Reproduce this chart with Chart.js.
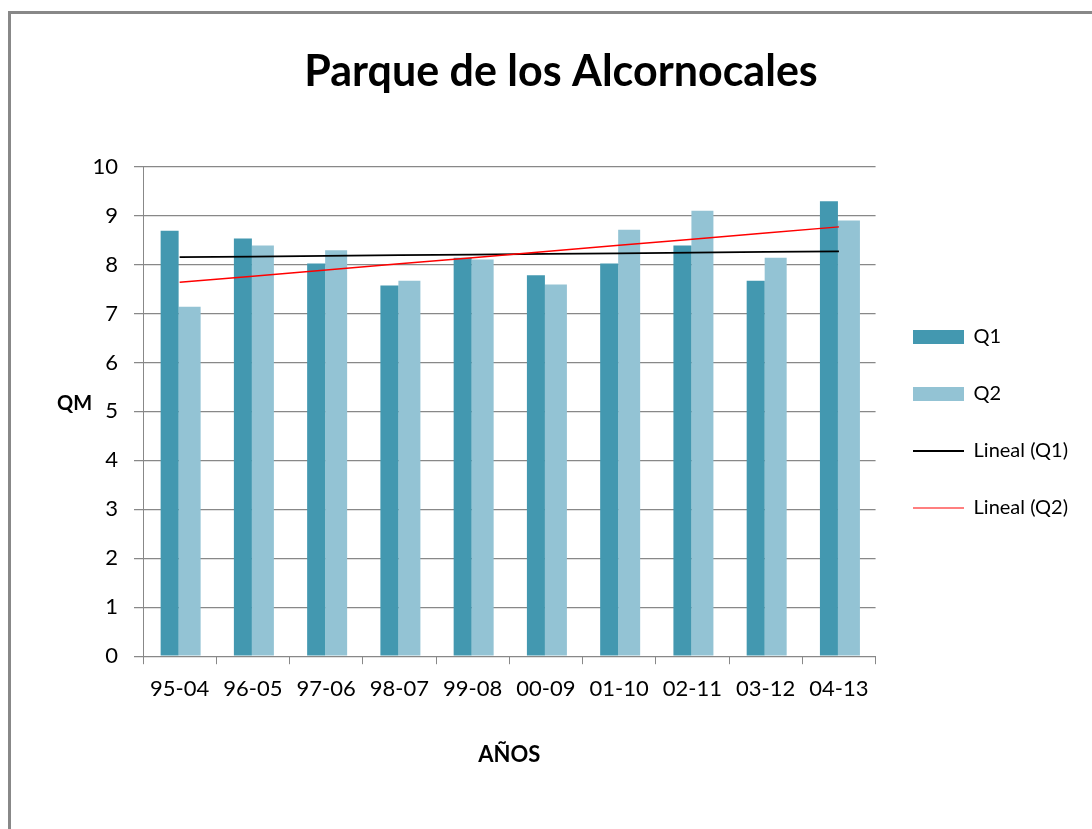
<!DOCTYPE html>
<html>
<head>
<meta charset="utf-8">
<script src="https://cdn.jsdelivr.net/npm/chart.js@4/dist/chart.umd.min.js"></script>
<style>
html,body{margin:0;padding:0;background:#fff;overflow:hidden;}
#wrap{position:relative;width:1092px;height:829px;}
#frame{position:absolute;left:8px;top:11px;width:2000px;height:2000px;border-top:3px solid #888;border-left:3px solid #888;pointer-events:none;}
</style>
</head>
<body>
<div id="wrap"><canvas id="c"></canvas><div id="frame"></div></div>
<script>
// ---- data ----
const categories = ['95-04','96-05','97-06','98-07','99-08','00-09','01-10','02-11','03-12','04-13'];
const q1Values = [8.69, 8.53, 8.02, 7.57, 8.14, 7.78, 8.02, 8.39, 7.67, 9.29];
const q2Values = [7.14, 8.39, 8.29, 7.67, 8.10, 7.59, 8.71, 9.10, 8.14, 8.90];
const yTickValues = [0,1,2,3,4,5,6,7,8,9,10];
const seriesNames = ['Q1','Q2','Lineal (Q1)','Lineal (Q2)'];
const titleText = 'Parque de los Alcornocales';
const xTitle = 'AÑOS';
const yTitle = 'QM';

// least-squares linear trend (Excel "Lineal" trendline) from the series values
function linearTrend(vals){
  const n = vals.length;
  let sx=0, sy=0, sxy=0, sxx=0;
  vals.forEach((v,i)=>{ sx+=i; sy+=v; sxy+=i*v; sxx+=i*i; });
  const b = (n*sxy - sx*sy)/(n*sxx - sx*sx);
  const a = (sy - b*sx)/n;
  return vals.map((v,i)=>a+b*i);
}
const trendQ1 = linearTrend(q1Values);
const trendQ2 = linearTrend(q2Values);

// ---- styles ----
const C_Q1 = '#4398b0';
const C_Q2 = '#93c3d4';
const GRID = '#888888';
Chart.defaults.font.family = 'Lato, "Open Sans", sans-serif';
Chart.defaults.color = '#000';

function swatch(kind, color, lw){
  const cv = document.createElement('canvas');
  cv.width = 51; cv.height = 14;
  const g = cv.getContext('2d');
  if (kind === 'rect'){ g.fillStyle = color; g.fillRect(0,0,51,14); }
  else { g.fillStyle = color; g.fillRect(0, 7 - lw/2, 51, lw); }
  return cv;
}
const legendItems = [
  {text: seriesNames[0], pointStyle: swatch('rect', C_Q1), fillStyle: C_Q1, strokeStyle: C_Q1, lineWidth: 0, hidden: false, datasetIndex: 2},
  {text: seriesNames[1], pointStyle: swatch('rect', C_Q2), fillStyle: C_Q2, strokeStyle: C_Q2, lineWidth: 0, hidden: false, datasetIndex: 3},
  {text: seriesNames[2], pointStyle: swatch('line', '#000', 2), fillStyle: '#000', strokeStyle: '#000', lineWidth: 0, hidden: false, datasetIndex: 1},
  {text: seriesNames[3], pointStyle: swatch('line', '#ff0000', 1), fillStyle: '#f00', strokeStyle: '#f00', lineWidth: 0, hidden: false, datasetIndex: 0}
];

// layout helpers
const LEG_FONT = 20, LEG_PAD = 37, LEG_BOX = 51;
const mctx = document.createElement('canvas').getContext('2d');
mctx.font = LEG_FONT + 'px Lato';
const maxText = Math.max(...seriesNames.map(t => mctx.measureText(t).width));
const legendW = LEG_PAD + LEG_BOX + LEG_FONT/2 + maxText + 10;
const plotRight = 876, plotLeft = 143;
const padRight = Math.max(0, Math.round(1092 - plotRight - legendW));
const padLeft = 30 + padRight;
const yAxisW = plotLeft - padLeft;

const qmPlugin = {
  id: 'qmLabel',
  afterDraw(chart){
    const {ctx} = chart; const y = chart.scales.y;
    ctx.save();
    ctx.font = 'bold 20px Lato';
    ctx.fillStyle = '#000';
    ctx.textAlign = 'left';
    ctx.textBaseline = 'middle';
    ctx.fillText(yTitle, 57, y.getPixelForValue(5) - 8);
    ctx.restore();
  }
};

new Chart(document.getElementById('c'), {
  data: {
    labels: categories,
    datasets: [
      {type:'line', label: seriesNames[3], data: trendQ2, borderColor:'#ff0000', borderWidth:1.5, pointRadius:0, fill:false, tension:0},
      {type:'line', label: seriesNames[2], data: trendQ1, borderColor:'#000000', borderWidth:1.75, pointRadius:0, fill:false, tension:0},
      {type:'bar', label: seriesNames[0], data: q1Values, backgroundColor: C_Q1, categoryPercentage:0.546, barPercentage:0.9},
      {type:'bar', label: seriesNames[1], data: q2Values, backgroundColor: C_Q2, categoryPercentage:0.546, barPercentage:1.1}
    ]
  },
  options: {
    responsive: true,
    maintainAspectRatio: false,
    animation: false,
    devicePixelRatio: 1,
    layout: { padding: {top:16, left: padLeft, right: padRight, bottom: 0} },
    plugins: {
      tooltip: {enabled:false},
      title: {
        display: true, text: titleText,
        font: {size: 43, weight: 'bold'}, color: '#000',
        padding: {top: 30, bottom: 69}
      },
      legend: {
        position: 'right', align: 'center',
        labels: {
          usePointStyle: true, pointStyleWidth: LEG_BOX, boxHeight: 14,
          padding: LEG_PAD, font: {size: LEG_FONT}, color: '#000',
          generateLabels: () => legendItems
        }
      }
    },
    scales: {
      x: {
        grid: {display:true, drawOnChartArea:false, drawTicks:true, tickLength:8, color: GRID, offset:true},
        border: {color: GRID, width:1},
        ticks: {padding: 12, font: {size: 22}, color:'#000', maxRotation:0, autoSkip:false},
        title: {display:true, text: xTitle, font:{size:22, weight:'bold'}, color:'#000', padding:{top:27, bottom:61}}
      },
      y: {
        min: 0, max: 10,
        afterBuildTicks(s){ s.ticks = yTickValues.map(v => ({value: v})); },
        afterFit(s){ s.width = yAxisW; },
        grid: {color: GRID, lineWidth: 1.25, tickLength: 9, drawTicks: true},
        border: {color: GRID, width: 1},
        ticks: {padding: 16, font: {size: 22}, color:'#000'}
      }
    }
  },
  plugins: [qmPlugin]
});
</script>
</body>
</html>
